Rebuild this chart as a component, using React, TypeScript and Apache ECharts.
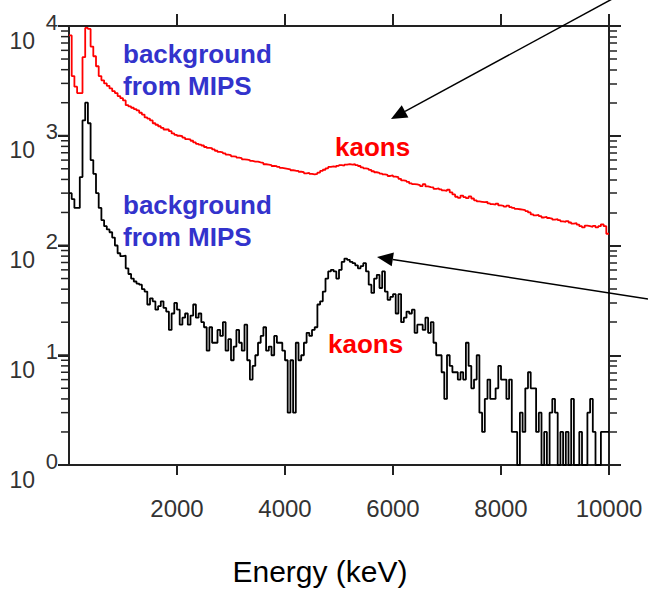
import React, { useEffect, useRef } from "react";
import * as echarts from "echarts";

// Bin width 50 keV, 200 bins covering 0..10000 keV
const binWidth = 50;

// Upper (red) spectrum, counts per bin
const redCounts = [
  8200, 3500, 2800, 2450, 2450, 5200, 9600, 9400, 6500, 5300,
  4300, 3500, 3200, 3000, 2850, 2700, 2550, 2450, 2300, 2200,
  2100, 1900, 1850, 1800, 1750, 1700, 1620, 1560, 1470, 1430,
  1380, 1300, 1260, 1220, 1180, 1140, 1140, 1100, 1050, 1020,
  1000, 990, 960, 930, 925, 900, 870, 845, 830, 815,
  790, 775, 770, 750, 730, 712, 705, 690, 672, 665,
  650, 645, 632, 625, 610, 605, 600, 590, 582, 580,
  572, 565, 550, 545, 540, 530, 528, 520, 510, 505,
  500, 495, 485, 480, 478, 470, 465, 455, 460, 450,
  445, 450, 462, 478, 490, 505, 520, 525, 520, 532,
  540, 535, 545, 552, 545, 550, 540, 530, 515, 505,
  500, 488, 475, 465, 460, 452, 445, 440, 430, 435,
  425, 420, 405, 392, 388, 380, 368, 362, 360, 355,
  348, 362, 345, 340, 338, 328, 332, 325, 318, 315,
  322, 305, 292, 278, 272, 285, 276, 270, 280, 268,
  258, 252, 250, 248, 250, 242, 238, 236, 240, 232,
  230, 226, 231, 224, 220, 216, 214, 212, 210, 206,
  200, 192, 188, 190, 185, 180, 182, 178, 176, 172,
  174, 170, 166, 164, 167, 162, 158, 160, 155, 150,
  146, 152, 150, 148, 151, 146, 150, 156, 150, 128,
];

// Lower (black) spectrum, counts per bin (1 = floor of the log axis)
const blackCounts = [
  300, 265, 220, 220, 420, 1380, 2000, 1300, 600, 450,
  300, 220, 170, 150, 140, 132, 118, 100, 85, 80,
  81, 62, 55, 50, 47, 45, 44, 40, 38, 29,
  33, 31, 26, 28, 31, 27, 25, 17, 24, 30,
  26, 19, 22, 24, 19, 23, 29, 22, 24, 20,
  18, 11, 18, 13, 13, 17, 15, 20, 11, 14,
  9, 12, 17, 13, 11, 19, 9, 6, 8, 10,
  13, 15, 18, 11, 12, 10, 15, 13, 13, 11,
  9, 3, 9, 3, 13, 9, 10, 13, 16, 15,
  17, 18, 29, 31, 38, 50, 58, 60, 58, 50,
  60, 71, 76, 74, 71, 69, 66, 62, 65, 69,
  58, 44, 37, 50, 54, 41, 58, 38, 32, 34,
  36, 24, 36, 20, 22, 25, 24, 26, 16, 19,
  19, 17, 22, 16, 20, 13, 10, 10, 7, 4,
  10, 8, 7, 7, 6, 7, 6, 13, 8, 5,
  6, 10, 3, 2, 4, 6, 4, 4, 5, 8,
  6, 6, 4, 6, 2, 2, 1, 3, 2, 5,
  7, 5, 5, 2, 3, 1, 2, 1, 3, 4,
  3, 1, 2, 1, 2, 1, 4, 1, 1, 2,
  1, 1, 3, 4, 2, 1, 1, 2, 2, 2,
];

const xTickValues = [2000, 4000, 6000, 8000, 10000];
const yMajorValues = [1, 10, 100, 1000, 10000];
const yMinorValues: number[] = [];
for (let d = 1; d < 10000; d *= 10) {
  for (let k = 2; k <= 9; k++) yMinorValues.push(k * d);
}
// the same minor ticks expressed as log10 positions (for the linear helper axis)
const yMinorLogValues = yMinorValues.map((v) => Math.log10(v));

const annotationBlue = "background\nfrom MIPS";
const annotationRed = "kaons";

const FONT = '"Liberation Sans", Arial, Helvetica, sans-serif';

function toSteps(counts: number[]): number[][] {
  const pts = counts.map((c, i) => [i * binWidth, c]);
  pts.push([counts.length * binWidth, counts[counts.length - 1]]);
  return pts;
}

function arrow(sx: number, sy: number, tx: number, ty: number) {
  const dx = sx - tx;
  const dy = sy - ty;
  const len = Math.sqrt(dx * dx + dy * dy);
  const ux = dx / len;
  const uy = dy / len;
  const L = 16;
  const W = 7;
  const bx = tx + ux * L;
  const by = ty + uy * L;
  const px = -uy;
  const py = ux;
  return [
    {
      type: "line",
      shape: { x1: sx, y1: sy, x2: bx, y2: by },
      style: { stroke: "#000", lineWidth: 1.5 },
      z: 100,
    },
    {
      type: "polygon",
      shape: {
        points: [
          [tx, ty],
          [bx + px * W, by + py * W],
          [bx - px * W, by - py * W],
        ],
      },
      style: { fill: "#000" },
      z: 100,
    },
  ];
}

const mkLine = (show = true) => ({ show, onZero: false, lineStyle: { color: "#222", width: 2 } });
const mkTick = (length: number, width: number, customValues?: number[]) => {
  const t: any = { show: true, length, lineStyle: { color: "#222", width } };
  if (customValues) t.customValues = customValues.slice();
  return t;
};

export default function App() {
  const ref = useRef<HTMLDivElement>(null);

  useEffect(() => {
    if (!ref.current) return;
    const chart = echarts.init(ref.current, undefined, { renderer: "svg" });

    const annotations: any[] = [
      {
        type: "text",
        left: 123,
        top: 37.8,
        style: {
          text: annotationBlue,
          fill: "#3333cc",
          fontSize: 26,
          fontWeight: "bold",
          fontFamily: FONT,
          lineHeight: 32,
        },
        z: 100,
      },
      {
        type: "text",
        left: 123,
        top: 189.3,
        style: {
          text: annotationBlue,
          fill: "#3333cc",
          fontSize: 26,
          fontWeight: "bold",
          fontFamily: FONT,
          lineHeight: 32,
        },
        z: 100,
      },
      {
        type: "text",
        left: 335,
        top: 132,
        style: { text: annotationRed, fill: "#ff0000", fontSize: 26, fontWeight: "bold", fontFamily: FONT, lineHeight: 30 },
        z: 100,
      },
      {
        type: "text",
        left: 328,
        top: 328.5,
        style: { text: annotationRed, fill: "#ff0000", fontSize: 26, fontWeight: "bold", fontFamily: FONT, lineHeight: 30 },
        z: 100,
      },
      ...arrow(614, -2, 391, 119),
      ...arrow(648, 299, 377, 257),
    ];

    const option: any = {
      animation: false,
      grid: { left: 69, top: 26, width: 540, height: 447 },
      xAxis: [
        {
          type: "value",
          min: 0,
          max: 10000,
          interval: 2000,
          position: "bottom",
          axisLine: mkLine(),
          axisTick: mkTick(10, 2, xTickValues),
          axisLabel: {
            show: true,
            margin: 31,
            fontSize: 24,
            fontFamily: FONT,
            color: "#333",
            formatter: (v: number) => (v === 0 ? "" : String(v)),
          },
          splitLine: { show: false },
          name: "Energy (keV)",
          nameLocation: "middle",
          nameGap: 91,
          nameTextStyle: { fontSize: 30, fontFamily: FONT, color: "#000", padding: [0, 38, 0, 0] },
        },
        {
          type: "value",
          min: 0,
          max: 10000,
          interval: 2000,
          position: "top",
          axisLine: mkLine(),
          axisTick: mkTick(12, 2, xTickValues),
          axisLabel: { show: false },
          splitLine: { show: false },
        },
      ],
      yAxis: [
        {
          // main log axis: line, decade ticks and the exponent of each label
          type: "log",
          min: 1,
          max: 10000,
          position: "left",
          axisLine: mkLine(),
          axisTick: mkTick(11, 2),
          axisLabel: {
            show: true,
            margin: 11,
            fontSize: 22,
            fontFamily: FONT,
            color: "#333",
            verticalAlign: "bottom",
            lineHeight: 8,
            formatter: (v: number) => String(Math.round(Math.log10(v))),
          },
          splitLine: { show: false },
        },
        {
          type: "log",
          min: 1,
          max: 10000,
          position: "right",
          axisLine: mkLine(),
          axisTick: mkTick(12, 2),
          axisLabel: { show: false },
          splitLine: { show: false },
        },
        {
          type: "value",
          min: 0,
          max: 4,
          position: "right",
          axisLine: mkLine(false),
          axisTick: mkTick(8, 1.5, yMinorLogValues),
          axisLabel: { show: false },
          splitLine: { show: false },
        },
        {
          // base "10" of each decade label
          type: "log",
          min: 1,
          max: 10000,
          position: "left",
          axisLine: mkLine(false),
          axisTick: { show: false },
          axisLabel: {
            show: true,
            margin: 34,
            fontSize: 23,
            fontFamily: FONT,
            color: "#333",
            verticalAlign: "top",
            lineHeight: 29,
            formatter: () => "10",
          },
          splitLine: { show: false },
        },
      ],
      series: [
        {
          type: "line",
          name: "upper",
          xAxisIndex: 0,
          yAxisIndex: 0,
          step: "end",
          data: toSteps(redCounts),
          showSymbol: false,
          symbol: "none",
          lineStyle: { color: "#ff0000", width: 1.8 },
        },
        {
          type: "line",
          name: "lower",
          xAxisIndex: 0,
          yAxisIndex: 0,
          step: "end",
          data: toSteps(blackCounts),
          showSymbol: false,
          symbol: "none",
          lineStyle: { color: "#000000", width: 1.8 },
        },
      ],
      graphic: annotations,
    };

    chart.setOption(option);

    // left and bottom tick marks, positioned through the chart's own axis scales
    try {
      const toX = (v: number) => chart.convertToPixel({ xAxisIndex: 0 } as any, v) as unknown as number;
      const toY = (v: number) => chart.convertToPixel({ yAxisIndex: 0 } as any, v) as unknown as number;
      const x0 = toX(0);
      const yb = toY(1);
      const ticks: any[] = [];
      if (isFinite(x0) && isFinite(yb)) {
        xTickValues.forEach((v) => {
          const x = toX(v);
          if (isFinite(x)) {
            ticks.push({ type: "line", shape: { x1: x, y1: yb, x2: x, y2: yb + 10 }, style: { stroke: "#222", lineWidth: 2 }, z: 100 });
          }
        });
        yMajorValues.forEach((v) => {
          const y = toY(v);
          if (isFinite(y)) {
            ticks.push({ type: "line", shape: { x1: x0 - 11, y1: y, x2: x0, y2: y }, style: { stroke: "#222", lineWidth: 2 }, z: 100 });
          }
        });
        yMinorValues.forEach((v) => {
          const y = toY(v);
          if (isFinite(y)) {
            ticks.push({ type: "line", shape: { x1: x0 - 8, y1: y, x2: x0, y2: y }, style: { stroke: "#222", lineWidth: 1.5 }, z: 100 });
          }
        });
      }
      if (ticks.length) chart.setOption({ graphic: [...annotations, ...ticks] });
    } catch (e) {
      // keep the chart without the extra tick marks
    }

    return () => chart.dispose();
  }, []);

  return <div ref={ref} style={{ position: "absolute", left: 0, top: 0, width: 648, height: 591 }} />;
}
